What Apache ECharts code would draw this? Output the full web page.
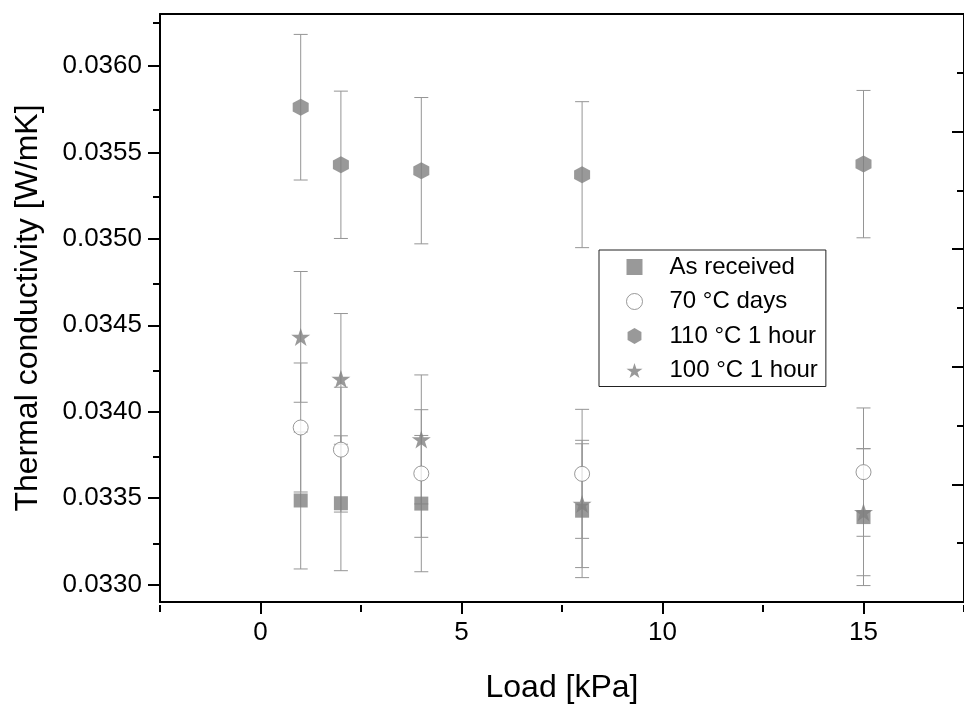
<!DOCTYPE html>
<html><head><meta charset="utf-8">
<script src="https://cdn.jsdelivr.net/npm/echarts@6/dist/echarts.min.js"></script>
<style>html,body{margin:0;padding:0;background:#fff}#c{width:964px;height:709px}</style>
</head><body><div id="c"></div>
<script>
// ---- data ----
const loads = [1, 2, 4, 8, 15];
const seriesNames = ['As received', '70 °C days', '110 °C 1 hour', '100 °C 1 hour'];
const asReceived    = [0.033487, 0.033471, 0.033469, 0.033428, 0.033391];
const asReceivedErr = [0.000396, 0.000390, 0.000394, 0.000387, 0.000396];
const days70        = [0.033909, 0.033781, 0.033643, 0.033641, 0.033651];
const days70Err     = [0.000373, 0.000361, 0.000369, 0.000373, 0.000371];
const hour110       = [0.035761, 0.035428, 0.035394, 0.035371, 0.035432];
const hour110Err    = [0.000421, 0.000426, 0.000423, 0.000422, 0.000426];
const hour100       = [0.034433, 0.034190, 0.033840, 0.033467, 0.033419];
const hour100Err    = [0.000378, 0.000378, 0.000373, 0.000368, 0.000367];
const xTickValues = [0, 5, 10, 15];
const xMinorTickValues = [-2.5, 2.5, 7.5, 12.5, 17.5];
const yTickValues = [0.0330, 0.0335, 0.0340, 0.0345, 0.0350, 0.0355, 0.0360];
const yMinorTickValues = [0.03325, 0.03375, 0.03425, 0.03475, 0.03525, 0.03575, 0.03625];
const xTitle = 'Load [kPa]';
const yTitle = 'Thermal conductivity [W/mK]';

// ---- styling ----
const FONT = '"Liberation Sans", Arial, sans-serif';
const MARK = '#808080';
const ERR = '#959595';
const X_MIN = -2.5, X_MAX = 17.5, Y_MIN = 0.0329, Y_MAX = 0.0363;
const SQUARE = 'path://M0,0L1,0L1,1L0,1Z';
const HEX = 'path://M0,-1L0.866,-0.5L0.866,0.5L0,1L-0.866,0.5L-0.866,-0.5Z';
const STAR = 'path://M0,-1L0.2245,-0.309L0.951,-0.309L0.363,0.118L0.588,0.809L0,0.382L-0.588,0.809L-0.363,0.118L-0.951,-0.309L-0.2245,-0.309Z';
const gridRect = {left: 160, top: 14, width: 811, height: 591};

function errorSeries(vals, errs) {
  return {
    type: 'custom', xAxisIndex: 0, yAxisIndex: 0, silent: true, z: 1,
    data: loads.map((x, i) => [x, vals[i] - errs[i], vals[i] + errs[i]]),
    encode: {x: 0, y: [1, 2]},
    renderItem: (params, api) => {
      const lo = api.coord([api.value(0), api.value(1)]);
      const hi = api.coord([api.value(0), api.value(2)]);
      const hw = 7;
      const style = {stroke: ERR, lineWidth: 1, fill: null};
      return {type: 'group', children: [
        {type: 'line', shape: {x1: lo[0], y1: lo[1], x2: hi[0], y2: hi[1]}, style},
        {type: 'line', shape: {x1: lo[0] - hw, y1: lo[1], x2: lo[0] + hw, y2: lo[1]}, style},
        {type: 'line', shape: {x1: hi[0] - hw, y1: hi[1], x2: hi[0] + hw, y2: hi[1]}, style}
      ]};
    }
  };
}
function scatter(name, vals, symbol, size, itemStyle) {
  return {
    type: 'scatter', name, xAxisIndex: 0, yAxisIndex: 0, z: 2,
    data: loads.map((x, i) => [x, vals[i]]),
    symbol, symbolSize: size, itemStyle, silent: true
  };
}

const axisLineStyle = {color: '#000', width: 2};
const option = {
  animation: false,
  backgroundColor: '#fff',
  grid: [Object.assign({}, gridRect), Object.assign({}, gridRect)],
  xAxis: [
    {type: 'value', gridIndex: 0, min: X_MIN, max: X_MAX, position: 'bottom',
     axisLine: {show: true, onZero: false, lineStyle: axisLineStyle},
     axisTick: {show: true, customValues: xTickValues, length: 12, lineStyle: axisLineStyle},
     axisLabel: {show: true, customValues: xTickValues, fontSize: 26, color: '#000', margin: 18, fontFamily: FONT},
     splitLine: {show: false},
     name: xTitle, nameLocation: 'middle', nameGap: 70,
     nameTextStyle: {fontSize: 32, color: '#000', fontFamily: FONT}},
    {type: 'value', gridIndex: 0, min: X_MIN, max: X_MAX, position: 'top',
     axisLine: {show: true, onZero: false, lineStyle: axisLineStyle},
     axisTick: {show: false}, axisLabel: {show: false}, splitLine: {show: false}},
    {type: 'value', gridIndex: 1, min: X_MIN, max: X_MAX, position: 'bottom',
     axisLine: {show: false, onZero: false},
     axisTick: {show: true, customValues: xMinorTickValues, length: 7, lineStyle: axisLineStyle},
     axisLabel: {show: false}, splitLine: {show: false}}
  ],
  yAxis: [
    {type: 'value', gridIndex: 0, min: Y_MIN, max: Y_MAX, position: 'left',
     axisLine: {show: true, onZero: false, lineStyle: axisLineStyle},
     axisTick: {show: true, customValues: yTickValues, length: 12, lineStyle: axisLineStyle},
     axisLabel: {show: true, customValues: yTickValues, fontSize: 26, color: '#000', margin: 18, fontFamily: FONT,
                 formatter: v => v.toFixed(4)},
     splitLine: {show: false},
     name: yTitle, nameLocation: 'middle', nameGap: 116,
     nameTextStyle: {fontSize: 32, color: '#000', fontFamily: FONT}},
    {type: 'value', gridIndex: 0, min: 0, max: 5, interval: 1, position: 'right',
     axisLine: {show: true, onZero: false, lineStyle: axisLineStyle},
     axisTick: {show: true, inside: true, length: 12, lineStyle: axisLineStyle},
     minorTick: {show: true, splitNumber: 2, length: 7, lineStyle: axisLineStyle},
     axisLabel: {show: false}, splitLine: {show: false}},
    {type: 'value', gridIndex: 1, min: Y_MIN, max: Y_MAX, position: 'left',
     axisLine: {show: false, onZero: false},
     axisTick: {show: true, customValues: yMinorTickValues, length: 7, lineStyle: axisLineStyle},
     axisLabel: {show: false}, splitLine: {show: false}}
  ],
  legend: {
    orient: 'vertical', left: 599, top: 250,
    itemWidth: 16, itemHeight: 16, itemGap: 10.5,
    padding: [5, 8, 4, 27],
    borderColor: '#222', borderWidth: 1, borderRadius: 0,
    symbolKeepAspect: true,
    textStyle: {fontSize: 24, lineHeight: 24, color: '#000', fontFamily: FONT, padding: [0, 0, 0, 22]},
    selectedMode: false,
    data: [
      {name: seriesNames[0], icon: SQUARE, itemStyle: {color: MARK, borderWidth: 0}},
      {name: seriesNames[1], icon: 'circle', itemStyle: {color: '#fff', borderColor: MARK, borderWidth: 1}},
      {name: seriesNames[2], icon: HEX, itemStyle: {color: MARK, borderWidth: 0}},
      {name: seriesNames[3], icon: STAR, itemStyle: {color: MARK, borderWidth: 0}}
    ]
  },
  series: [
    errorSeries(asReceived, asReceivedErr),
    errorSeries(days70, days70Err),
    errorSeries(hour110, hour110Err),
    errorSeries(hour100, hour100Err),
    scatter(seriesNames[3], hour100, STAR, [19, 18], {color: MARK}),
    scatter(seriesNames[2], hour110, HEX, [16, 17], {color: MARK}),
    scatter(seriesNames[0], asReceived, 'rect', 14, {color: MARK}),
    scatter(seriesNames[1], days70, 'circle', 15, {color: '#fff', borderColor: MARK, borderWidth: 1})
  ]
};
const chart = echarts.init(document.getElementById('c'), null, {renderer: 'canvas'});
chart.setOption(option);
</script></body></html>
